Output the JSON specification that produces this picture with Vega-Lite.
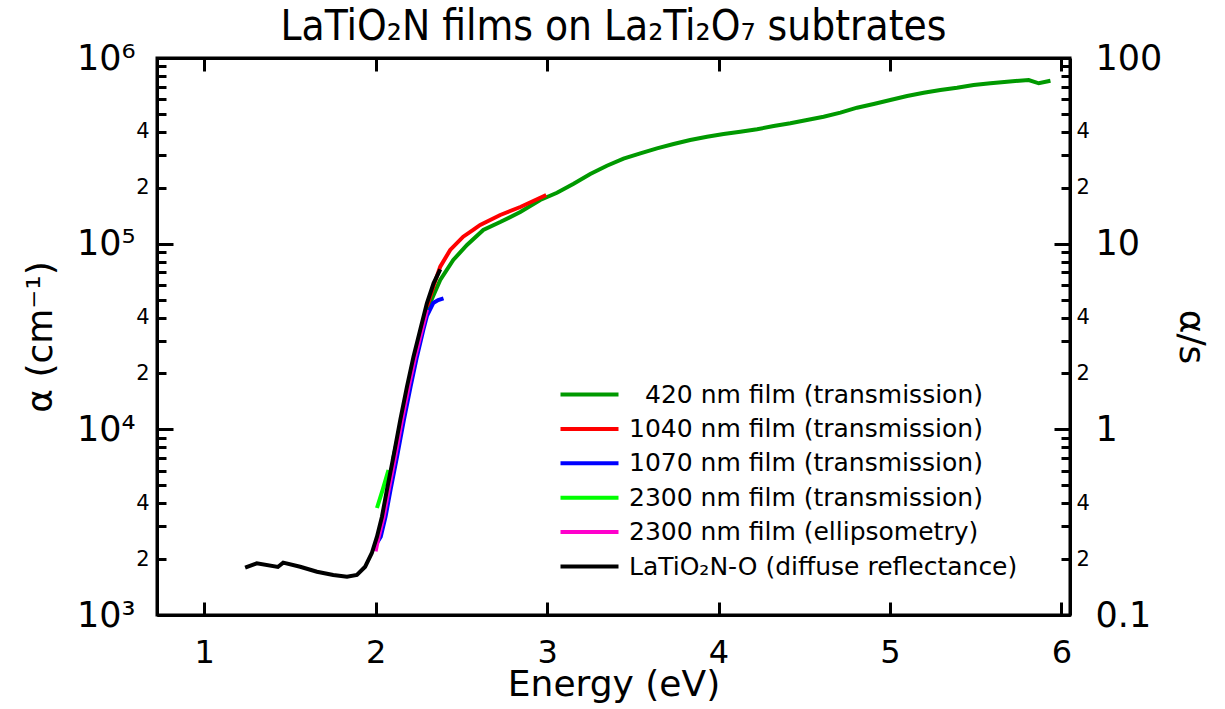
{
  "$schema": "https://vega.github.io/schema/vega-lite/v6.json",
  "width": 913,
  "height": 557,
  "autosize": {"type": "none"},
  "padding": {"left": 157, "top": 58, "right": 155, "bottom": 94},
  "background": "white",
  "config": {
    "view": {"stroke": "black", "strokeWidth": 3},
    "axis": {"domainColor": "black", "domainWidth": 3, "tickColor": "black", "tickWidth": 3, "labelColor": "black", "titleColor": "black", "labelFont": "DejaVu Sans", "titleFont": "DejaVu Sans", "grid": false, "titleFontWeight": "normal", "labelOverlap": false, "labelBound": false, "labelFlush": false}
  },
  "title": {"text": "LaTiO₂N films on La₂Ti₂O₇ subtrates", "font": "'DejaVu Sans Condensed', 'Liberation Sans'", "fontSize": 42, "fontWeight": "normal", "color": "black", "offset": -8},
  "data": {"values": [
    {"E": 2.10, "a": 6800, "s": "420 nm film (transmission)"},
    {"E": 2.15, "a": 11000, "s": "420 nm film (transmission)"},
    {"E": 2.20, "a": 18500, "s": "420 nm film (transmission)"},
    {"E": 2.25, "a": 29000, "s": "420 nm film (transmission)"},
    {"E": 2.30, "a": 44000, "s": "420 nm film (transmission)"},
    {"E": 2.377, "a": 63700, "s": "420 nm film (transmission)"},
    {"E": 2.453, "a": 81700, "s": "420 nm film (transmission)"},
    {"E": 2.533, "a": 98400, "s": "420 nm film (transmission)"},
    {"E": 2.628, "a": 118500, "s": "420 nm film (transmission)"},
    {"E": 2.727, "a": 130800, "s": "420 nm film (transmission)"},
    {"E": 2.844, "a": 148100, "s": "420 nm film (transmission)"},
    {"E": 2.96, "a": 171900, "s": "420 nm film (transmission)"},
    {"E": 3.058, "a": 188000, "s": "420 nm film (transmission)"},
    {"E": 3.155, "a": 210000, "s": "420 nm film (transmission)"},
    {"E": 3.252, "a": 237000, "s": "420 nm film (transmission)"},
    {"E": 3.349, "a": 263000, "s": "420 nm film (transmission)"},
    {"E": 3.446, "a": 287000, "s": "420 nm film (transmission)"},
    {"E": 3.544, "a": 306700, "s": "420 nm film (transmission)"},
    {"E": 3.641, "a": 326300, "s": "420 nm film (transmission)"},
    {"E": 3.738, "a": 344200, "s": "420 nm film (transmission)"},
    {"E": 3.835, "a": 361700, "s": "420 nm film (transmission)"},
    {"E": 3.933, "a": 376800, "s": "420 nm film (transmission)"},
    {"E": 4.03, "a": 389600, "s": "420 nm film (transmission)"},
    {"E": 4.127, "a": 401100, "s": "420 nm film (transmission)"},
    {"E": 4.225, "a": 413000, "s": "420 nm film (transmission)"},
    {"E": 4.322, "a": 430300, "s": "420 nm film (transmission)"},
    {"E": 4.419, "a": 444900, "s": "420 nm film (transmission)"},
    {"E": 4.516, "a": 463600, "s": "420 nm film (transmission)"},
    {"E": 4.613, "a": 482900, "s": "420 nm film (transmission)"},
    {"E": 4.711, "a": 507500, "s": "420 nm film (transmission)"},
    {"E": 4.808, "a": 539900, "s": "420 nm film (transmission)"},
    {"E": 4.905, "a": 565200, "s": "420 nm film (transmission)"},
    {"E": 5.002, "a": 593900, "s": "420 nm film (transmission)"},
    {"E": 5.10, "a": 624300, "s": "420 nm film (transmission)"},
    {"E": 5.197, "a": 650400, "s": "420 nm film (transmission)"},
    {"E": 5.294, "a": 672600, "s": "420 nm film (transmission)"},
    {"E": 5.391, "a": 691900, "s": "420 nm film (transmission)"},
    {"E": 5.488, "a": 715500, "s": "420 nm film (transmission)"},
    {"E": 5.586, "a": 730700, "s": "420 nm film (transmission)"},
    {"E": 5.683, "a": 745500, "s": "420 nm film (transmission)"},
    {"E": 5.809, "a": 761300, "s": "420 nm film (transmission)"},
    {"E": 5.868, "a": 730700, "s": "420 nm film (transmission)"},
    {"E": 5.936, "a": 754600, "s": "420 nm film (transmission)"},
    {"E": 2.30, "a": 46000, "s": "1040 nm film (transmission)"},
    {"E": 2.34, "a": 60000, "s": "1040 nm film (transmission)"},
    {"E": 2.377, "a": 75200, "s": "1040 nm film (transmission)"},
    {"E": 2.435, "a": 92500, "s": "1040 nm film (transmission)"},
    {"E": 2.511, "a": 109000, "s": "1040 nm film (transmission)"},
    {"E": 2.569, "a": 118500, "s": "1040 nm film (transmission)"},
    {"E": 2.61, "a": 126100, "s": "1040 nm film (transmission)"},
    {"E": 2.727, "a": 142700, "s": "1040 nm film (transmission)"},
    {"E": 2.844, "a": 157600, "s": "1040 nm film (transmission)"},
    {"E": 2.995, "a": 182900, "s": "1040 nm film (transmission)"},
    {"E": 1.99, "a": 2300, "s": "1070 nm film (transmission)"},
    {"E": 2.03, "a": 2641, "s": "1070 nm film (transmission)"},
    {"E": 2.058, "a": 3384, "s": "1070 nm film (transmission)"},
    {"E": 2.087, "a": 4714, "s": "1070 nm film (transmission)"},
    {"E": 2.125, "a": 7121, "s": "1070 nm film (transmission)"},
    {"E": 2.165, "a": 11230, "s": "1070 nm film (transmission)"},
    {"E": 2.204, "a": 16970, "s": "1070 nm film (transmission)"},
    {"E": 2.241, "a": 24620, "s": "1070 nm film (transmission)"},
    {"E": 2.278, "a": 34280, "s": "1070 nm film (transmission)"},
    {"E": 2.30, "a": 41000, "s": "1070 nm film (transmission)"},
    {"E": 2.336, "a": 47900, "s": "1070 nm film (transmission)"},
    {"E": 2.365, "a": 49700, "s": "1070 nm film (transmission)"},
    {"E": 2.396, "a": 50800, "s": "1070 nm film (transmission)"},
    {"E": 2.008, "a": 3770, "s": "2300 nm film (transmission)"},
    {"E": 2.041, "a": 4714, "s": "2300 nm film (transmission)"},
    {"E": 2.075, "a": 6040, "s": "2300 nm film (transmission)"},
    {"E": 2.00, "a": 2200, "s": "2300 nm film (ellipsometry)"},
    {"E": 2.018, "a": 2641, "s": "2300 nm film (ellipsometry)"},
    {"E": 2.047, "a": 3384, "s": "2300 nm film (ellipsometry)"},
    {"E": 2.076, "a": 4714, "s": "2300 nm film (ellipsometry)"},
    {"E": 2.114, "a": 7121, "s": "2300 nm film (ellipsometry)"},
    {"E": 2.154, "a": 11230, "s": "2300 nm film (ellipsometry)"},
    {"E": 2.193, "a": 16970, "s": "2300 nm film (ellipsometry)"},
    {"E": 2.231, "a": 24620, "s": "2300 nm film (ellipsometry)"},
    {"E": 2.27, "a": 34280, "s": "2300 nm film (ellipsometry)"},
    {"E": 2.30, "a": 44000, "s": "2300 nm film (ellipsometry)"},
    {"E": 1.239, "a": 1799, "s": "LaTiO₂N-O (diffuse reflectance)"},
    {"E": 1.307, "a": 1898, "s": "LaTiO₂N-O (diffuse reflectance)"},
    {"E": 1.43, "a": 1814, "s": "LaTiO₂N-O (diffuse reflectance)"},
    {"E": 1.461, "a": 1914, "s": "LaTiO₂N-O (diffuse reflectance)"},
    {"E": 1.56, "a": 1820, "s": "LaTiO₂N-O (diffuse reflectance)"},
    {"E": 1.658, "a": 1711, "s": "LaTiO₂N-O (diffuse reflectance)"},
    {"E": 1.753, "a": 1643, "s": "LaTiO₂N-O (diffuse reflectance)"},
    {"E": 1.833, "a": 1608, "s": "LaTiO₂N-O (diffuse reflectance)"},
    {"E": 1.891, "a": 1643, "s": "LaTiO₂N-O (diffuse reflectance)"},
    {"E": 1.939, "a": 1820, "s": "LaTiO₂N-O (diffuse reflectance)"},
    {"E": 1.978, "a": 2158, "s": "LaTiO₂N-O (diffuse reflectance)"},
    {"E": 2.008, "a": 2641, "s": "LaTiO₂N-O (diffuse reflectance)"},
    {"E": 2.037, "a": 3384, "s": "LaTiO₂N-O (diffuse reflectance)"},
    {"E": 2.066, "a": 4714, "s": "LaTiO₂N-O (diffuse reflectance)"},
    {"E": 2.104, "a": 7121, "s": "LaTiO₂N-O (diffuse reflectance)"},
    {"E": 2.144, "a": 11230, "s": "LaTiO₂N-O (diffuse reflectance)"},
    {"E": 2.183, "a": 16970, "s": "LaTiO₂N-O (diffuse reflectance)"},
    {"E": 2.221, "a": 24620, "s": "LaTiO₂N-O (diffuse reflectance)"},
    {"E": 2.26, "a": 34280, "s": "LaTiO₂N-O (diffuse reflectance)"},
    {"E": 2.299, "a": 47730, "s": "LaTiO₂N-O (diffuse reflectance)"},
    {"E": 2.338, "a": 61160, "s": "LaTiO₂N-O (diffuse reflectance)"},
    {"E": 2.377, "a": 72780, "s": "LaTiO₂N-O (diffuse reflectance)"}
  ]},
  "layer": [
    {
      "mark": {"type": "line", "strokeWidth": 4},
      "encoding": {
        "x": {"field": "E", "type": "quantitative", "scale": {"domain": [0.725, 6.05], "nice": false, "zero": false},
          "axis": {"orient": "bottom", "values": [1, 2, 3, 4, 5, 6], "format": "d", "tickSize": -13, "labelPadding": 35, "labelFontSize": 32, "title": "Energy (eV)", "titleFontSize": 36, "titleY": 80, "titleBaseline": "alphabetic"}},
        "y": {"field": "a", "type": "quantitative", "scale": {"type": "log", "domain": [1000, 1000000], "nice": false},
          "axis": {"orient": "left",
            "values": [1000, 2000, 3000, 4000, 5000, 6000, 7000, 8000, 9000, 10000, 20000, 30000, 40000, 50000, 60000, 70000, 80000, 90000, 100000, 200000, 300000, 400000, 500000, 600000, 700000, 800000, 900000, 1000000],
            "labelExpr": "indexof([1000,10000,100000,1000000],datum.value)>=0 ? (datum.value==1000?'10³':datum.value==10000?'10⁴':datum.value==100000?'10⁵':'10⁶') : (indexof([2000,20000,200000],datum.value)>=0?'2':(indexof([4000,40000,400000],datum.value)>=0?'4':''))",
            "tickSize": {"condition": {"test": "indexof([1000,10000,100000,1000000],datum.value)>=0", "value": -16}, "value": -9},
            "labelFontSize": {"condition": {"test": "indexof([1000,10000,100000,1000000],datum.value)>=0", "value": 35}, "value": 21},
            "labelPadding": {"condition": {"test": "indexof([1000,10000,100000,1000000],datum.value)>=0", "value": 38}, "value": 17},
            "title": "α (cm⁻¹)", "titleFontSize": 36, "titleX": -117, "titleBaseline": "middle"}},
        "color": {"field": "s", "type": "nominal",
          "scale": {"domain": ["420 nm film (transmission)", "1040 nm film (transmission)", "1070 nm film (transmission)", "2300 nm film (transmission)", "2300 nm film (ellipsometry)", "LaTiO₂N-O (diffuse reflectance)"],
                    "range": ["#009900", "#ff0000", "#0000ff", "#00ff00", "#ff00cc", "#000000"]},
          "legend": {"orient": "none", "legendX": 416, "legendY": 320, "title": null, "labelFont": "DejaVu Sans", "labelFontSize": 25, "labelColor": "black", "symbolType": "M-2,0H2", "symbolStrokeWidth": 4, "symbolSize": 841, "labelOffset": 23, "rowPadding": 4.4, "labelLimit": 0,
            "encode": {"labels": {"update": {"dx": {"signal": "datum.value == '420 nm film (transmission)' ? 16 : 0"}}}}}}
      }
    },
    {
      "mark": {"type": "line", "strokeOpacity": 0},
      "encoding": {
        "x": {"field": "E", "type": "quantitative", "scale": {"domain": [0.725, 6.05], "nice": false, "zero": false},
          "axis": {"orient": "top", "values": [1, 2, 3, 4, 5, 6], "labels": false, "tickSize": -13, "title": null}},
        "y": {"field": "a", "type": "quantitative", "scale": {"type": "log", "domain": [1000, 1000000], "nice": false},
          "axis": {"orient": "right",
            "values": [1000, 2000, 3000, 4000, 5000, 6000, 7000, 8000, 9000, 10000, 20000, 30000, 40000, 50000, 60000, 70000, 80000, 90000, 100000, 200000, 300000, 400000, 500000, 600000, 700000, 800000, 900000, 1000000],
            "labelExpr": "datum.value==1000?'0.1':datum.value==10000?'1':datum.value==100000?'10':datum.value==1000000?'100':(indexof([2000,20000,200000],datum.value)>=0?'2':(indexof([4000,40000,400000],datum.value)>=0?'4':''))",
            "tickSize": {"condition": {"test": "indexof([1000,10000,100000,1000000],datum.value)>=0", "value": -16}, "value": -9},
            "labelFontSize": {"condition": {"test": "indexof([1000,10000,100000,1000000],datum.value)>=0", "value": 35}, "value": 21},
            "labelPadding": {"condition": {"test": "indexof([1000,10000,100000,1000000],datum.value)>=0", "value": 41}, "value": 15},
            "title": "α/s", "titleFontSize": 36, "titleX": 120, "titleBaseline": "middle"}}
      }
    }
  ],
  "resolve": {"scale": {"x": "independent", "y": "independent"}}
}
